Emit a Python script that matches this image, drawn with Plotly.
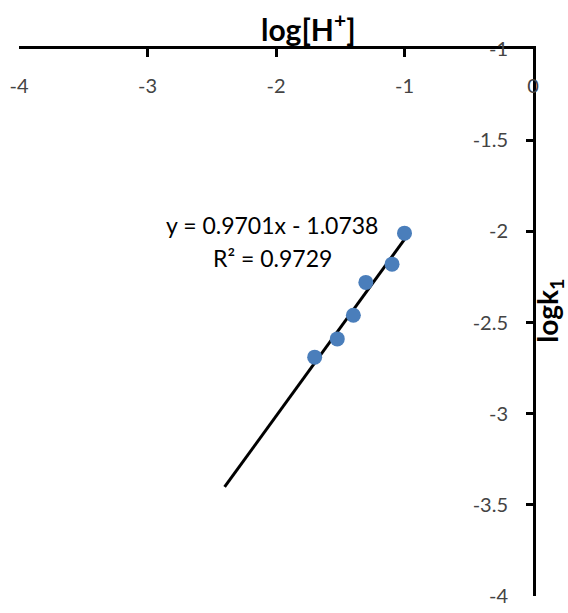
import numpy as np
import plotly.graph_objects as go

# data
log_h = [-1.0, -1.097, -1.301, -1.398, -1.523, -1.699]
log_k1 = [-2.01, -2.18, -2.28, -2.46, -2.59, -2.69]
slope = 0.9701
intercept = -1.0738
r2 = 0.9729
trend_x_range = [-2.4, -1.0]
x_ticks = [-4, -3, -2, -1, 0]
y_ticks = [-4, -3.5, -3, -2.5, -2, -1.5, -1]

FONT = "Lato"
W, H = 568, 613
L, R, T, B = 19, 35, 49, 6

tx = np.array(trend_x_range)
ty = slope * tx + intercept

fig = go.Figure()
fig.add_trace(go.Scatter(x=tx, y=ty, mode="lines",
                         line=dict(color="black", width=3), hoverinfo="skip"))
fig.add_trace(go.Scatter(x=log_h, y=log_k1, mode="markers",
                         marker=dict(color="#4a7ebb", size=15)))

def px_to_paper_x(px):
    return (px - L) / (W - L - R)

def px_to_paper_y(py):
    return 1 - (py - T) / (H - T - B)

fig.update_layout(
    width=W, height=H,
    margin=dict(l=L, r=R, t=T, b=B),
    paper_bgcolor="white", plot_bgcolor="white",
    showlegend=False,
    font=dict(family=FONT, size=19, color="black"),
    xaxis=dict(range=[-4, 0], side="top", tickvals=x_ticks,
               ticktext=[str(v) for v in x_ticks],
               showgrid=False, zeroline=False, showline=True,
               linecolor="black", linewidth=3,
               ticks="inside", ticklen=8, tickwidth=3, tickcolor="black",
               ticklabelposition="inside", ticklabeloverflow="allow",
               ticklabelstandoff=23, tickfont=dict(size=20)),
    yaxis=dict(range=[-4, -1], side="right", tickvals=y_ticks,
               ticktext=[("%g" % v) for v in y_ticks],
               showgrid=False, zeroline=False, showline=True,
               linecolor="black", linewidth=3,
               ticks="inside", ticklen=7, tickwidth=3, tickcolor="black",
               ticklabelposition="inside", ticklabeloverflow="allow",
               ticklabelstandoff=19, tickfont=dict(size=20)),
)

annos = [
    dict(text="<b>log[H<sup>+</sup>]</b>", x=px_to_paper_x(308), y=px_to_paper_y(27),
         font=dict(size=30)),
    dict(text="<b>logk<sub>1</sub></b>", x=px_to_paper_x(549), y=px_to_paper_y(316),
         font=dict(size=28), textangle=-90),
    dict(text="y = %.4fx - %.4f" % (slope, abs(intercept)), x=px_to_paper_x(272), y=px_to_paper_y(229),
         font=dict(size=23)),
    dict(text="R² = %.4f" % r2, x=px_to_paper_x(272), y=px_to_paper_y(262),
         font=dict(size=23)),
]
for a in annos:
    fig.add_annotation(xref="paper", yref="paper", showarrow=False,
                       xanchor="center", yanchor="middle", **a)

fig.write_html("out.html")
